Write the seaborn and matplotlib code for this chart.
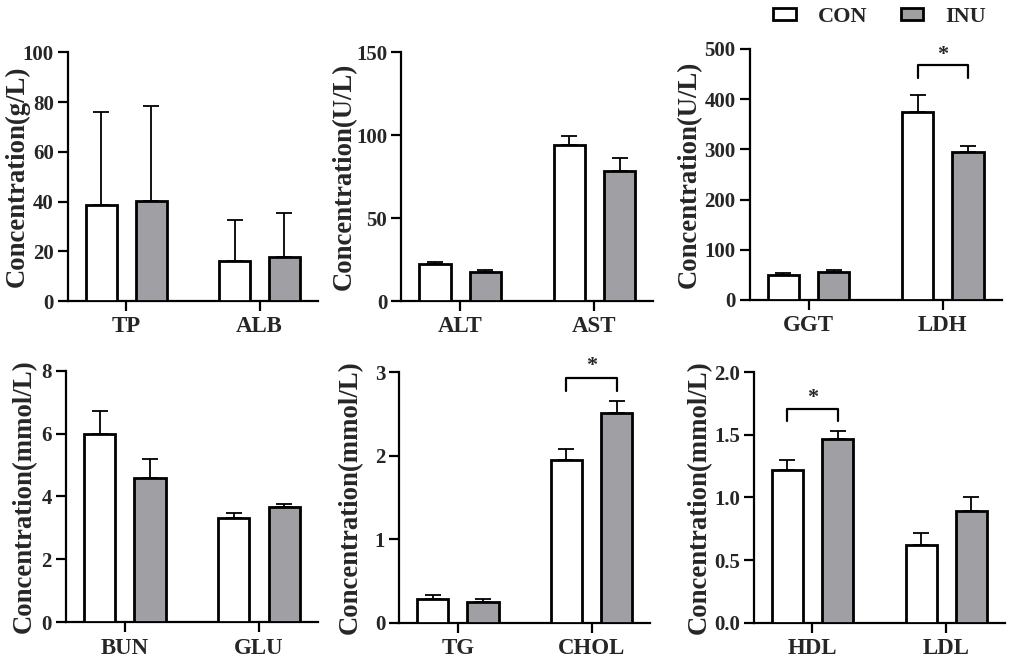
import numpy as np
import pandas as pd
import seaborn as sns
import matplotlib
matplotlib.use("Agg")
import matplotlib.pyplot as plt
from matplotlib.ticker import FormatStrFormatter

# --- DATA ---
GROUPS = ["CON", "INU"]
PANEL_CATS = [["TP", "ALB"], ["ALT", "AST"], ["GGT", "LDH"],
              ["BUN", "GLU"], ["TG", "CHOL"], ["HDL", "LDL"]]
CON_MEAN = [[38.5, 16.3], [22.3, 94.2], [49.0, 374.7],
            [5.98, 3.32], [0.287, 1.95], [1.222, 0.624]]
CON_ERR = [[37.7, 16.5], [1.4, 5.2], [4.7, 33.8],
           [0.73, 0.17], [0.044, 0.128], [0.079, 0.096]]
INU_MEAN = [[40.1, 17.8], [17.5, 78.7], [55.0, 293.8],
            [4.60, 3.66], [0.255, 2.51], [1.463, 0.895]]
INU_ERR = [[38.2, 17.5], [1.2, 7.4], [4.7, 11.9],
           [0.59, 0.11], [0.032, 0.14], [0.070, 0.106]]
Y_LABELS = ["Concentration(g/L)", "Concentration(U/L)", "Concentration(U/L)",
            "Concentration(mmol/L)", "Concentration(mmol/L)", "Concentration(mmol/L)"]
Y_MAX = [100, 150, 500, 8, 3, 2.0]
Y_TICKS = [[0, 20, 40, 60, 80, 100], [0, 50, 100, 150], [0, 100, 200, 300, 400, 500],
           [0, 2, 4, 6, 8], [0, 1, 2, 3], [0.0, 0.5, 1.0, 1.5, 2.0]]
# significance brackets: (panel, category index, bracket top, tick bottom, star y)
SIG = [(2, 1, 469, 443, 468), (4, 1, 2.93, 2.77, 2.95), (5, 0, 1.708, 1.61, 1.714)]

GRAY = "#A0A0A4"

sns.set_style("ticks")
plt.rcParams["font.family"] = ["Liberation Serif", "DejaVu Serif"]
plt.rcParams["font.weight"] = "bold"
plt.rcParams["axes.labelweight"] = "bold"

fig = plt.figure(figsize=(10.13, 6.62), dpi=100)

# axes rectangles in figure fractions
RECTS = [(0.067, 0.545, 0.247, 0.376), (0.396, 0.545, 0.249, 0.376), (0.740, 0.547, 0.249, 0.379),
         (0.065, 0.060, 0.249, 0.380), (0.394, 0.059, 0.248, 0.379), (0.744, 0.059, 0.248, 0.379)]
# right edge of each rotated y label, in axes fraction
LABEL_X = [-0.152, -0.176, -0.188, -0.116, -0.144, -0.168]

axes = []
for i in range(6):
    ax = fig.add_axes(RECTS[i])
    cats = PANEL_CATS[i]
    df = pd.DataFrame({
        "cat": cats + cats,
        "group": ["CON"] * 2 + ["INU"] * 2,
        "value": CON_MEAN[i] + INU_MEAN[i],
    })
    sns.barplot(data=df, x="cat", y="value", hue="group", order=cats, hue_order=GROUPS,
                palette=["white", GRAY], edgecolor="black", linewidth=2.0,
                width=0.75, gap=0.38, errorbar=None, legend=False, ax=ax, zorder=3)

    errs = [CON_ERR[i], INU_ERR[i]]
    for cont, err in zip(ax.containers, errs):
        xs = [b.get_x() + b.get_width() / 2 for b in cont]
        hs = [b.get_height() for b in cont]
        ax.errorbar(xs, hs, yerr=[np.zeros(len(err)), err], fmt="none", ecolor="black",
                    elinewidth=1.3, capsize=6, capthick=1.3, zorder=2)

    ax.set_xlim(-0.44, 1.44)
    ax.set_ylim(0, Y_MAX[i])
    ax.set_yticks(Y_TICKS[i])
    if i == 5:
        ax.yaxis.set_major_formatter(FormatStrFormatter("%.1f"))
    ax.set_xlabel("")
    ax.set_ylabel(Y_LABELS[i], fontsize=19.3, fontweight="bold")
    ax.yaxis.set_label_coords(LABEL_X[i], 0.5)
    sns.despine(ax=ax)
    for s in ["left", "bottom"]:
        ax.spines[s].set_linewidth(1.6)
        ax.spines[s].set_color("black")
    ax.tick_params(axis="both", width=1.6, length=7, color="black", pad=3)
    ax.tick_params(axis="y", labelsize=15)
    ax.tick_params(axis="x", labelsize=16.5, pad=4)
    for lab in ax.get_xticklabels() + ax.get_yticklabels():
        lab.set_fontweight("bold")
    axes.append(ax)

# significance brackets
for p, ci, top, bot, star in SIG:
    ax = axes[p]
    x1 = ax.containers[0][ci].get_x() + ax.containers[0][ci].get_width() / 2
    x2 = ax.containers[1][ci].get_x() + ax.containers[1][ci].get_width() / 2
    ax.plot([x1, x1, x2, x2], [bot, top, top, bot], color="black", lw=1.6,
            clip_on=False, zorder=4)
    ax.text((x1 + x2) / 2, star, "*", ha="center", va="bottom", fontsize=16,
            fontweight="bold", clip_on=False)

# legend
handles = [plt.Rectangle((0, 0), 1, 1, facecolor=c, edgecolor="black", linewidth=2.0)
           for c in ["white", GRAY]]
fig.legend(handles, GROUPS, loc="upper right", bbox_to_anchor=(0.993, 1.02), ncol=2,
           frameon=False, handlelength=1.0, handleheight=0.42,
           handletextpad=1.0, columnspacing=1.5, prop={"weight": "bold", "size": 16})

fig.savefig("out.png", dpi=100)
